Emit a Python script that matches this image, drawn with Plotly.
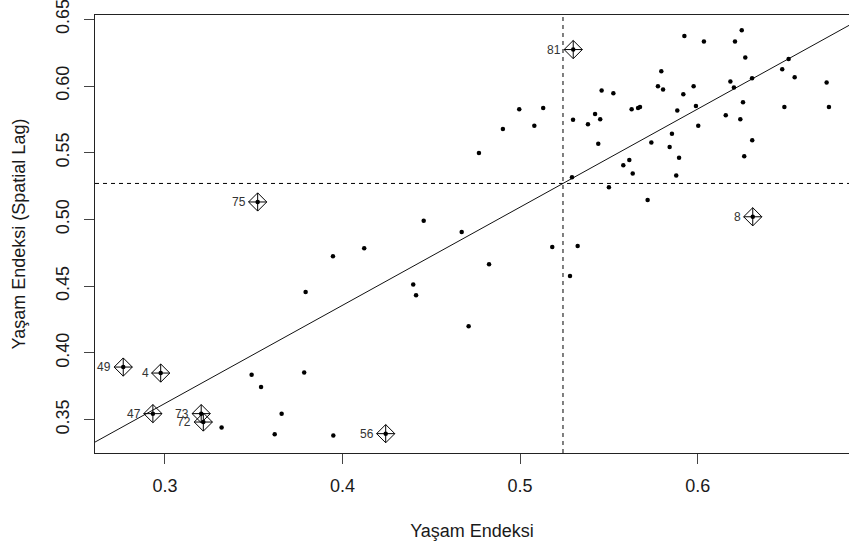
import numpy as np
import plotly.graph_objects as go

# Provinces flagged as influential: plate number, life index, spatial lag
etiket = ["49", "4", "47", "73", "72", "75", "56", "81", "8"]
etiket_endeks = [0.2765, 0.2976, 0.2932, 0.3204, 0.3216, 0.3522, 0.4243, 0.5299, 0.6310]
etiket_gecikme = [0.3894, 0.3849, 0.3545, 0.3545, 0.3482, 0.5131, 0.3395, 0.6273, 0.5020]

# Remaining provinces: life index and its spatial lag
endeks = [
    0.3488, 0.3541, 0.3657, 0.3319, 0.3618, 0.3792, 0.4398, 0.4414, 0.4710, 0.3784,
    0.3948, 0.5281, 0.3946, 0.4122, 0.4457, 0.4671, 0.4825, 0.5181, 0.5324, 0.4768,
    0.4903, 0.4995, 0.5080, 0.5130, 0.5298, 0.5292,
    0.6248, 0.5925, 0.6035, 0.6210, 0.6268, 0.5795, 0.6512, 0.6476, 0.6306, 0.6546,
    0.6184, 0.6204, 0.6726, 0.5776, 0.5805, 0.5977, 0.5459, 0.5525, 0.5919, 0.6255,
    0.6488, 0.6739, 0.5628, 0.5664, 0.5675, 0.5885, 0.5990, 0.5422, 0.5451, 0.5382,
    0.6158, 0.6240, 0.6003, 0.5855, 0.5440, 0.5739, 0.5842, 0.6307, 0.5895, 0.6262,
    0.5581, 0.5615, 0.5634, 0.5879, 0.5500, 0.5718,
]
gecikme = [
    0.3837, 0.3744, 0.3545, 0.3442, 0.3390, 0.4456, 0.4512, 0.4432, 0.4199, 0.3854,
    0.3382, 0.4576, 0.4724, 0.4784, 0.4991, 0.4906, 0.4664, 0.4793, 0.4801, 0.5498,
    0.5678, 0.5825, 0.5703, 0.5835, 0.5748, 0.5316,
    0.6418, 0.6375, 0.6333, 0.6333, 0.6213, 0.6110, 0.6202, 0.6125, 0.6058, 0.6065,
    0.6033, 0.5988, 0.6026, 0.5998, 0.5973, 0.5998, 0.5966, 0.5945, 0.5938, 0.5878,
    0.5843, 0.5843, 0.5825, 0.5835, 0.5843, 0.5816, 0.5850, 0.5790, 0.5751, 0.5713,
    0.5781, 0.5751, 0.5703, 0.5643, 0.5568, 0.5576, 0.5543, 0.5593, 0.5463, 0.5473,
    0.5406, 0.5446, 0.5344, 0.5329, 0.5241, 0.5146,
]

x_ticks = [0.3, 0.4, 0.5, 0.6]
y_ticks = [0.35, 0.40, 0.45, 0.50, 0.55, 0.60, 0.65]

x_all = np.array(endeks + etiket_endeks)
y_all = np.array(gecikme + etiket_gecikme)

x_range = [0.2606, 0.6852]
y_range = [0.3250, 0.6532]

# Least-squares line of the lag on the index, plus the two means
slope, intercept = np.polyfit(x_all, y_all, 1)
x_mean = x_all.mean()
y_mean = y_all.mean()

FONT = "Liberation Sans, Arial, sans-serif"
INK = "#1a1a1a"

fig = go.Figure()

fig.add_trace(go.Scatter(
    x=x_range,
    y=[intercept + slope * v for v in x_range],
    mode="lines",
    line=dict(color="#111111", width=1),
    hoverinfo="skip",
))

fig.add_trace(go.Scatter(
    x=x_all, y=y_all,
    mode="markers",
    marker=dict(size=4.5, color="black"),
))

fig.add_trace(go.Scatter(
    x=etiket_endeks, y=etiket_gecikme,
    mode="markers",
    marker=dict(symbol="diamond-cross-open", size=14,
                color="black", line=dict(color="black", width=1)),
))

for lab, xv, yv in zip(etiket, etiket_endeks, etiket_gecikme):
    fig.add_annotation(
        x=xv, y=yv, text=lab, showarrow=False,
        xanchor="right", yanchor="middle", xshift=-10,
        font=dict(family=FONT, size=12, color="#333333"),
    )

fig.add_shape(type="line", xref="x", yref="paper", x0=x_mean, x1=x_mean, y0=0, y1=1,
              line=dict(color="black", width=1, dash="4px,4px"))
fig.add_shape(type="line", xref="paper", yref="y", x0=0, x1=1, y0=y_mean, y1=y_mean,
              line=dict(color="black", width=1, dash="4px,4px"))

fig.update_layout(
    width=849, height=552,
    margin=dict(l=95, r=0, t=15, b=99),
    paper_bgcolor="white", plot_bgcolor="white",
    showlegend=False,
    font=dict(family=FONT, size=18, color=INK),
)

fig.update_xaxes(
    range=x_range, tickvals=x_ticks, tickformat=".1f",
    showgrid=False, zeroline=False,
    showline=True, mirror=True, linecolor="#222222", linewidth=1,
    ticks="outside", ticklen=10, tickcolor="#444444", tickwidth=1,
    ticklabelstandoff=6,
    title=dict(text="Yaşam Endeksi", standoff=29, font=dict(size=18)),
)
fig.update_yaxes(
    range=y_range, tickvals=y_ticks, tickformat=".2f",
    showgrid=False, zeroline=False,
    showline=True, linecolor="#222222", linewidth=1,
    ticks="outside", ticklen=10, tickcolor="#444444", tickwidth=1,
    tickangle=-90, ticklabelstandoff=8, ticklabeloverflow="allow",
    title=dict(text="Yaşam Endeksi (Spatial Lag)", standoff=22, font=dict(size=18)),
)

fig.write_html("out.html")
